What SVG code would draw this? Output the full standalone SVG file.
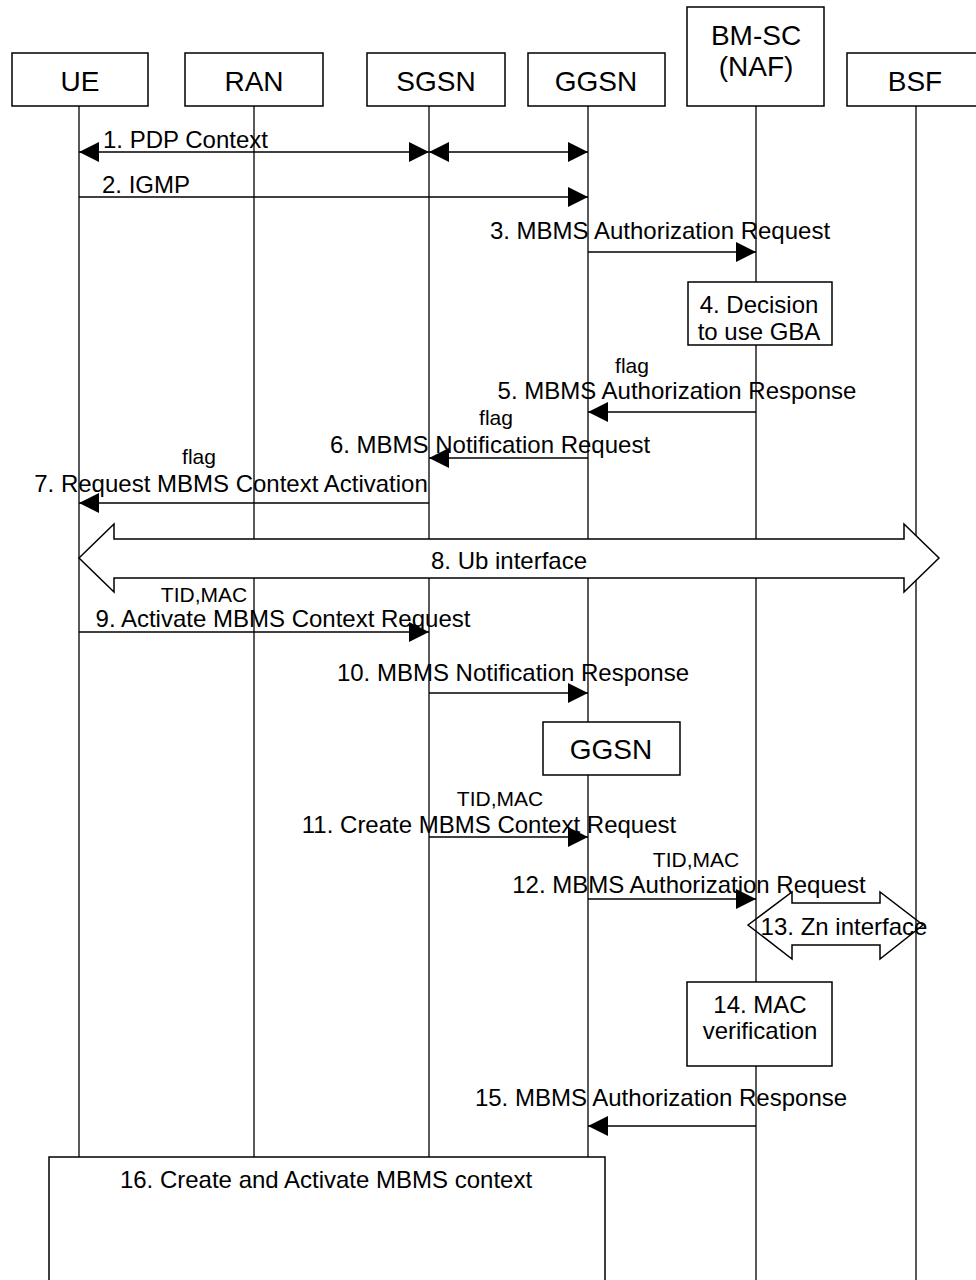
<svg xmlns="http://www.w3.org/2000/svg" width="976" height="1280" viewBox="0 0 976 1280">
<style>
text{font-family:"Liberation Sans",Arial,sans-serif;fill:#000}
.h{font-size:28px;text-anchor:middle}
.m{font-size:24px;text-anchor:middle}
.s{font-size:21px;text-anchor:middle}
.box{fill:#fff;stroke:#000;stroke-width:1.5}
.life{stroke:#000;stroke-width:1.3}
.msg{stroke:#000;stroke-width:1.3;fill:none}
.big{stroke:#000;stroke-width:1.5}
</style>
<defs>
<marker id="ah" markerUnits="userSpaceOnUse" markerWidth="20" markerHeight="20" refX="20" refY="10" orient="auto-start-reverse" viewBox="0 0 20 20">
<path d="M0,0 L20,10 L0,20 z" fill="#000"/>
</marker>
</defs>
<rect width="976" height="1280" fill="#fff"/>
<g id="lifelines">
<line class="life" x1="79" y1="106" x2="79" y2="1280"/>
<line class="life" x1="254" y1="106" x2="254" y2="1280"/>
<line class="life" x1="429" y1="106" x2="429" y2="1280"/>
<line class="life" x1="588" y1="106" x2="588" y2="1280"/>
<line class="life" x1="756" y1="106" x2="756" y2="1280"/>
<line class="life" x1="916" y1="106" x2="916" y2="1280"/>
</g>
<g id="UE"><rect class="box" x="12" y="53" width="136" height="53"/><text class="h" x="80" y="91">UE</text></g>
<g id="RAN"><rect class="box" x="185" y="53" width="138" height="53"/><text class="h" x="254" y="91">RAN</text></g>
<g id="SGSN"><rect class="box" x="367" y="53" width="138" height="53"/><text class="h" x="436" y="91">SGSN</text></g>
<g id="GGSN"><rect class="box" x="528" y="53" width="137" height="53"/><text class="h" x="596" y="91">GGSN</text></g>
<g id="BMSC"><rect class="box" x="687" y="7" width="137" height="99"/><text class="h" x="756" y="45">BM-SC</text><text class="h" x="756" y="76">(NAF)</text></g>
<g id="BSF"><rect class="box" x="847" y="53" width="140" height="53"/><text class="h" x="915" y="91">BSF</text></g>
<g id="connectors">
<line class="msg" x1="79" y1="152" x2="429" y2="152" marker-start="url(#ah)" marker-end="url(#ah)"/>
<line class="msg" x1="429" y1="152" x2="588" y2="152" marker-start="url(#ah)" marker-end="url(#ah)"/>
<text class="m" x="103" y="148" style="text-anchor:start">1. PDP Context</text>
<line class="msg" x1="79" y1="197" x2="588" y2="197" marker-end="url(#ah)"/>
<text class="m" x="102" y="193" style="text-anchor:start">2. IGMP</text>
<line class="msg" x1="588" y1="252" x2="756" y2="252" marker-end="url(#ah)"/>
<text class="m" x="660" y="239">3. MBMS Authorization Request</text>
<line class="msg" x1="756" y1="412" x2="588" y2="412" marker-end="url(#ah)"/>
<text class="s" x="632" y="373">flag</text>
<text class="m" x="677" y="399">5. MBMS Authorization Response</text>
<line class="msg" x1="588" y1="458" x2="429" y2="458" marker-end="url(#ah)"/>
<text class="s" x="496" y="425">flag</text>
<text class="m" x="490" y="453">6. MBMS Notification Request</text>
<line class="msg" x1="429" y1="503" x2="79" y2="503" marker-end="url(#ah)"/>
<text class="s" x="199" y="464">flag</text>
<text class="m" x="231" y="492">7. Request MBMS Context Activation</text>
<polygon class="big" fill="#fff" points="79,558 114,524 114,539 904,539 904,524 939,558 904,592 904,578 114,578 114,592"/>
<text class="m" x="509" y="569">8. Ub interface</text>
<line class="msg" x1="79" y1="632" x2="429" y2="632" marker-end="url(#ah)"/>
<text class="s" x="204" y="602">TID,MAC</text>
<text class="m" x="283" y="627">9. Activate MBMS Context Request</text>
<line class="msg" x1="429" y1="693" x2="588" y2="693" marker-end="url(#ah)"/>
<text class="m" x="513" y="681">10. MBMS Notification Response</text>
<line class="msg" x1="429" y1="837" x2="588" y2="837" marker-end="url(#ah)"/>
<text class="s" x="500" y="806">TID,MAC</text>
<text class="m" x="489" y="833">11. Create MBMS Context Request</text>
<line class="msg" x1="588" y1="899" x2="756" y2="899" marker-end="url(#ah)"/>
<text class="s" x="696" y="867">TID,MAC</text>
<text class="m" x="689" y="893">12. MBMS Authorization Request</text>
<polygon class="big" fill="none" points="748,925 792,892 792,903 880,903 880,892 923,925 880,959 880,945 792,945 792,959"/>
<text class="m" x="844" y="935">13. Zn interface</text>
<line class="msg" x1="756" y1="1126" x2="588" y2="1126" marker-end="url(#ah)"/>
<text class="m" x="661" y="1106">15. MBMS Authorization Response</text>
</g>
<g id="step4"><rect class="box" x="688" y="282" width="144" height="63"/><text class="m" x="759" y="313">4. Decision</text><text class="m" x="759" y="340">to use GBA</text></g>
<g id="GGSN2"><rect class="box" x="543" y="722" width="137" height="53"/><text class="h" x="611" y="759">GGSN</text></g>
<g id="step14"><rect class="box" x="687" y="982" width="145" height="84"/><text class="m" x="760" y="1013">14. MAC</text><text class="m" x="760" y="1039">verification</text></g>
<g id="step16"><rect class="box" x="49" y="1157" width="556" height="140"/><text class="m" x="326" y="1188">16. Create and Activate MBMS context</text></g>
</svg>
